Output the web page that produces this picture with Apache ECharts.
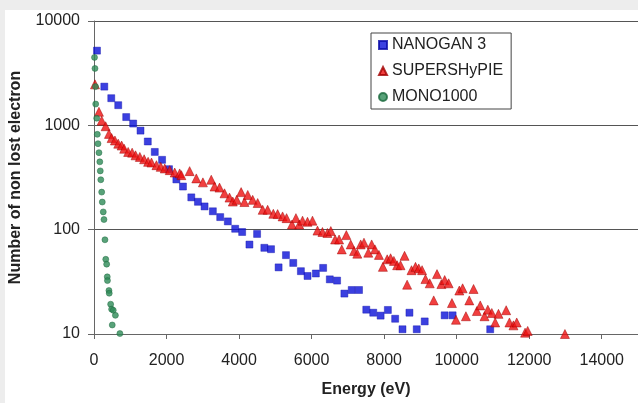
<!DOCTYPE html>
<html>
<head>
<meta charset="utf-8">
<script src="https://cdn.jsdelivr.net/npm/echarts@6/dist/echarts.min.js"></script>
<style>
html,body{margin:0;padding:0;background:#ededed;}
#chart{width:638px;height:403px;}
</style>
</head>
<body>
<div id="chart"></div>
<script>
// NANOGAN 3
const nanoganEnergy = [82,284,476,668,888,1080,1283,1483,1676,1877,2068,2271,2453,2683,2866,3049,3277,3480,3690,3893,4085,4286,4497,4697,4881,5090,5293,5494,5705,5888,6117,6318,6502,6703,6904,7106,7307,7508,7700,7903,8103,8304,8506,8698,8899,9119,9669,9888,10925];
const nanoganCount = [5200,2350,1820,1560,1200,1040,890,700,556,467,380,303,259,204,185,167,150,132,120,102,95,72,91,67,65,43.5,57,48,40,36,38,43,33.4,32.5,24.4,26.4,26.4,17.1,16,15,17,14,11.1,16,11.1,13.2,15.1,15.1,11.1];

// SUPERSHyPIE
const superEnergy = [27,137,212,321,412,486,577,668,761,832,942,1052,1146,1264,1382,1492,1585,1722,1840,1950,2088,2225,2362,2409,2637,2821,3003,3233,3324,3461,3599,3736,3827,3936,4057,4148,4239,4376,4513,4651,4788,4945,5063,5200,5310,5458,5568,5659,5750,5887,6024,6162,6299,6436,6530,6648,6758,6832,6958,7079,7170,7260,7354,7444,7563,7656,7747,7856,7966,8084,8178,8268,8359,8452,8563,8634,8755,8865,8955,9046,9139,9257,9367,9458,9579,9669,9779,9870,9980,10073,10164,10255,10348,10466,10557,10650,10768,10859,10969,11062,11153,11365,11455,11565,11656,11886,11958,12985];
const superCount = [2470,1349,1109,980,828,755,716,667,641,597,556,547,516,498,473,447,440,415,400,386,372,353,346,333,364,310,284,301,259,253,223,203,186,193,229,184,215,193,180,155,155,142,141,134,129,112,129,112,122,119,122,98,95,93,97,80.5,80.5,64.7,88.7,72.2,62.5,58.9,72.2,75,60.2,72.2,64.7,57.3,44,52,53.2,50.2,45.6,45.6,56.1,29.7,40.9,44,42.5,40.9,33.6,30.6,21,37.5,30.1,32.9,30.6,19.8,13.7,26.1,27.4,14.8,21,27,16.6,18.8,14.8,17.1,15.9,12.9,15.6,16.9,12.9,12.1,12.9,10.3,10.7,10.0];

// MONO1000
const monoEnergy = [14,27,41,47,74,91,110,137,160,173,187,212,228,255,275,302,324,349,365,371,412,420,459,486,530,590,503,714];
const monoCount = [4480,3510,2350,1600,1170,820,667,547,447,366,301,229,184,148,125,80,52,46.7,35.3,32.5,26.1,24.6,19.3,17.3,16.9,15.1,12.2,10.1];

const seriesNames = ['NANOGAN 3','SUPERSHyPIE','MONO1000'];
const xTicks = [0,2000,4000,6000,8000,10000,12000,14000];
const yTicks = [10,100,1000,10000];

function pairs(xs, ys){ return xs.map((x,i)=>[x, ys[i]]); }

const chart = echarts.init(document.getElementById('chart'), null, {renderer:'canvas'});
const font = '"Liberation Sans", Arial, sans-serif';
chart.setOption({
  animation: false,
  backgroundColor: '#ededed',
  graphic: [{
    type: 'rect', z: -10, silent: true,
    shape: {x: 5, y: 10, width: 640, height: 400},
    style: {fill: '#ffffff'}
  }],
  grid: {left: 94, top: 21, width: 546, height: 316, containLabel: false},
  legend: {
    orient: 'vertical', left: 371, top: 33,
    data: seriesNames,
    itemWidth: 8, itemHeight: 8, itemGap: 10,
    padding: [4, 8, 4, 7],
    borderColor: '#444', borderWidth: 1,
    backgroundColor: '#fff',
    textStyle: {fontFamily: font, fontSize: 16, color: '#222'}
  },
  xAxis: {
    type: 'value', min: 0, max: 15000, interval: 2000,
    name: 'Energy (eV)', nameLocation: 'middle', nameGap: 48,
    nameTextStyle: {fontFamily: font, fontSize: 16, fontWeight: 'bold', color: '#222'},
    axisLine: {show: true, onZero: false, lineStyle: {color: '#666', width: 1}},
    axisTick: {show: true, length: 5, lineStyle: {color: '#666'}},
    axisLabel: {fontFamily: font, fontSize: 16, color: '#222', margin: 19, showMaxLabel: false,
      formatter: v => xTicks.indexOf(v) >= 0 ? String(v) : ''},
    splitLine: {show: false}
  },
  yAxis: {
    type: 'log', logBase: 10, min: yTicks[0], max: yTicks[yTicks.length-1],
    name: 'Number of non lost electron', nameLocation: 'middle', nameGap: 70,
    nameTextStyle: {fontFamily: font, fontSize: 16, fontWeight: 'bold', color: '#222'},
    axisLine: {show: true, lineStyle: {color: '#666', width: 1}},
    axisTick: {show: true, length: 6, lineStyle: {color: '#666'}},
    axisLabel: {fontFamily: font, fontSize: 16, color: '#222', margin: 14,
      formatter: v => String(Math.round(v))},
    minorTick: {show: false},
    splitLine: {show: true, lineStyle: {color: '#555', width: 1}}
  },
  series: [
    {
      name: seriesNames[0], type: 'scatter', symbol: 'rect', symbolSize: 7, clip: false,
      itemStyle: {color: '#0a10d8', borderColor: '#0a0aa8', borderWidth: 0.5},
      data: pairs(nanoganEnergy, nanoganCount)
    },
    {
      name: seriesNames[1], type: 'scatter', symbol: 'triangle', symbolSize: 9, clip: false,
      itemStyle: {color: '#ee1010', borderColor: '#a00000', borderWidth: 0.6},
      data: pairs(superEnergy, superCount)
    },
    {
      name: seriesNames[2], type: 'scatter', symbol: 'circle', symbolSize: 6, clip: false,
      itemStyle: {color: '#2e8b57', borderColor: '#1d6a3f', borderWidth: 0.6},
      data: pairs(monoEnergy, monoCount)
    }
  ]
});
</script>
</body>
</html>
